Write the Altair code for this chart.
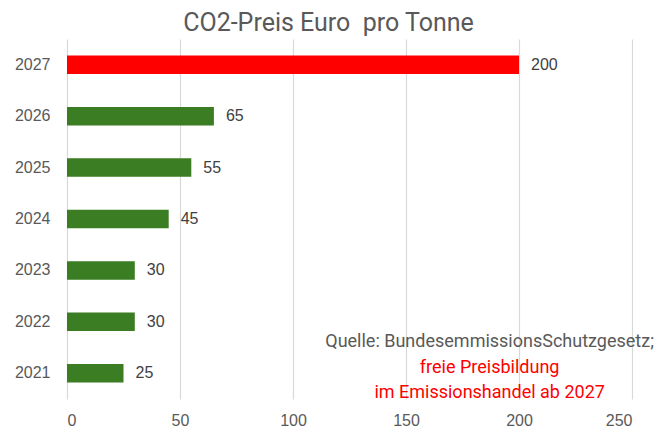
import altair as alt
import pandas as pd

years = ["2021", "2022", "2023", "2024", "2025", "2026", "2027"]
prices = [25, 30, 30, 45, 55, 65, 200]
bar_colors = ["#3a7d22", "#3a7d22", "#3a7d22", "#3a7d22", "#3a7d22", "#3a7d22", "#ff0000"]

note_lines = ["Quelle: BundesemmissionsSchutzgesetz;", "freie Preisbildung", "im Emissionshandel ab 2027"]
note_colors = ["#595959", "#ff0000", "#ff0000"]
note_x = [187, 187, 187]
note_row = [0, 1, 2]

df = pd.DataFrame({"year": years, "price": prices, "color": bar_colors})
notes = pd.DataFrame({"line": note_lines, "color": note_colors, "x": note_x, "row": note_row})

W, H = 565, 360

x_scale = alt.Scale(domain=[0, 250], nice=False)
y_scale = alt.Scale(paddingInner=0.64, paddingOuter=0.32)
y_axis = alt.Axis(title=None, domain=False, ticks=False, labelPadding=17,
                  labelFont="Liberation Sans", labelFontSize=16, labelColor="#595959")

bars = alt.Chart(df).mark_bar(stroke=None).encode(
    x=alt.X("price:Q", scale=x_scale,
            axis=alt.Axis(title=None, values=[0, 50, 100, 150, 200, 250], domain=False, ticks=False,
                          grid=True, gridColor="#d9d9d9", gridWidth=1.2, labelPadding=13,
                          labelFont="Liberation Sans", labelFontSize=16, labelColor="#595959")),
    y=alt.Y("year:O", sort="descending", scale=y_scale, axis=y_axis),
    color=alt.Color("color:N", scale=None),
)

labels = alt.Chart(df).mark_text(align="left", baseline="middle", dx=12,
                                 font="Liberation Sans", fontSize=16, color="#404040").encode(
    x=alt.X("price:Q", scale=x_scale),
    y=alt.Y("year:O", sort="descending", scale=y_scale),
    text=alt.Text("price:Q"),
)

base = alt.layer(bars, labels)

note = alt.Chart(notes).mark_text(align="center", baseline="middle", font="Roboto", fontSize=18).encode(
    x=alt.X("x:Q", scale=x_scale),
    y=alt.Y("row:Q", scale=alt.Scale(domain=[0, 2], range=[303, 354]), axis=None),
    text="line:N",
    color=alt.Color("color:N", scale=None),
)

chart = alt.layer(base, note).resolve_scale(y="independent").properties(
    width=W,
    height=H,
    title=alt.TitleParams("CO2-Preis Euro\u00a0 pro Tonne", font="Roboto", fontSize=25,
                          fontWeight="normal", color="#595959", anchor="middle", dx=-21, offset=3),
    autosize=alt.AutoSizeParams(type="none"),
    padding={"left": 59, "top": 31, "right": 27, "bottom": 30},
).configure_view(stroke=None)

chart.save("out.html", embed_options={"renderer": "svg", "actions": False})
